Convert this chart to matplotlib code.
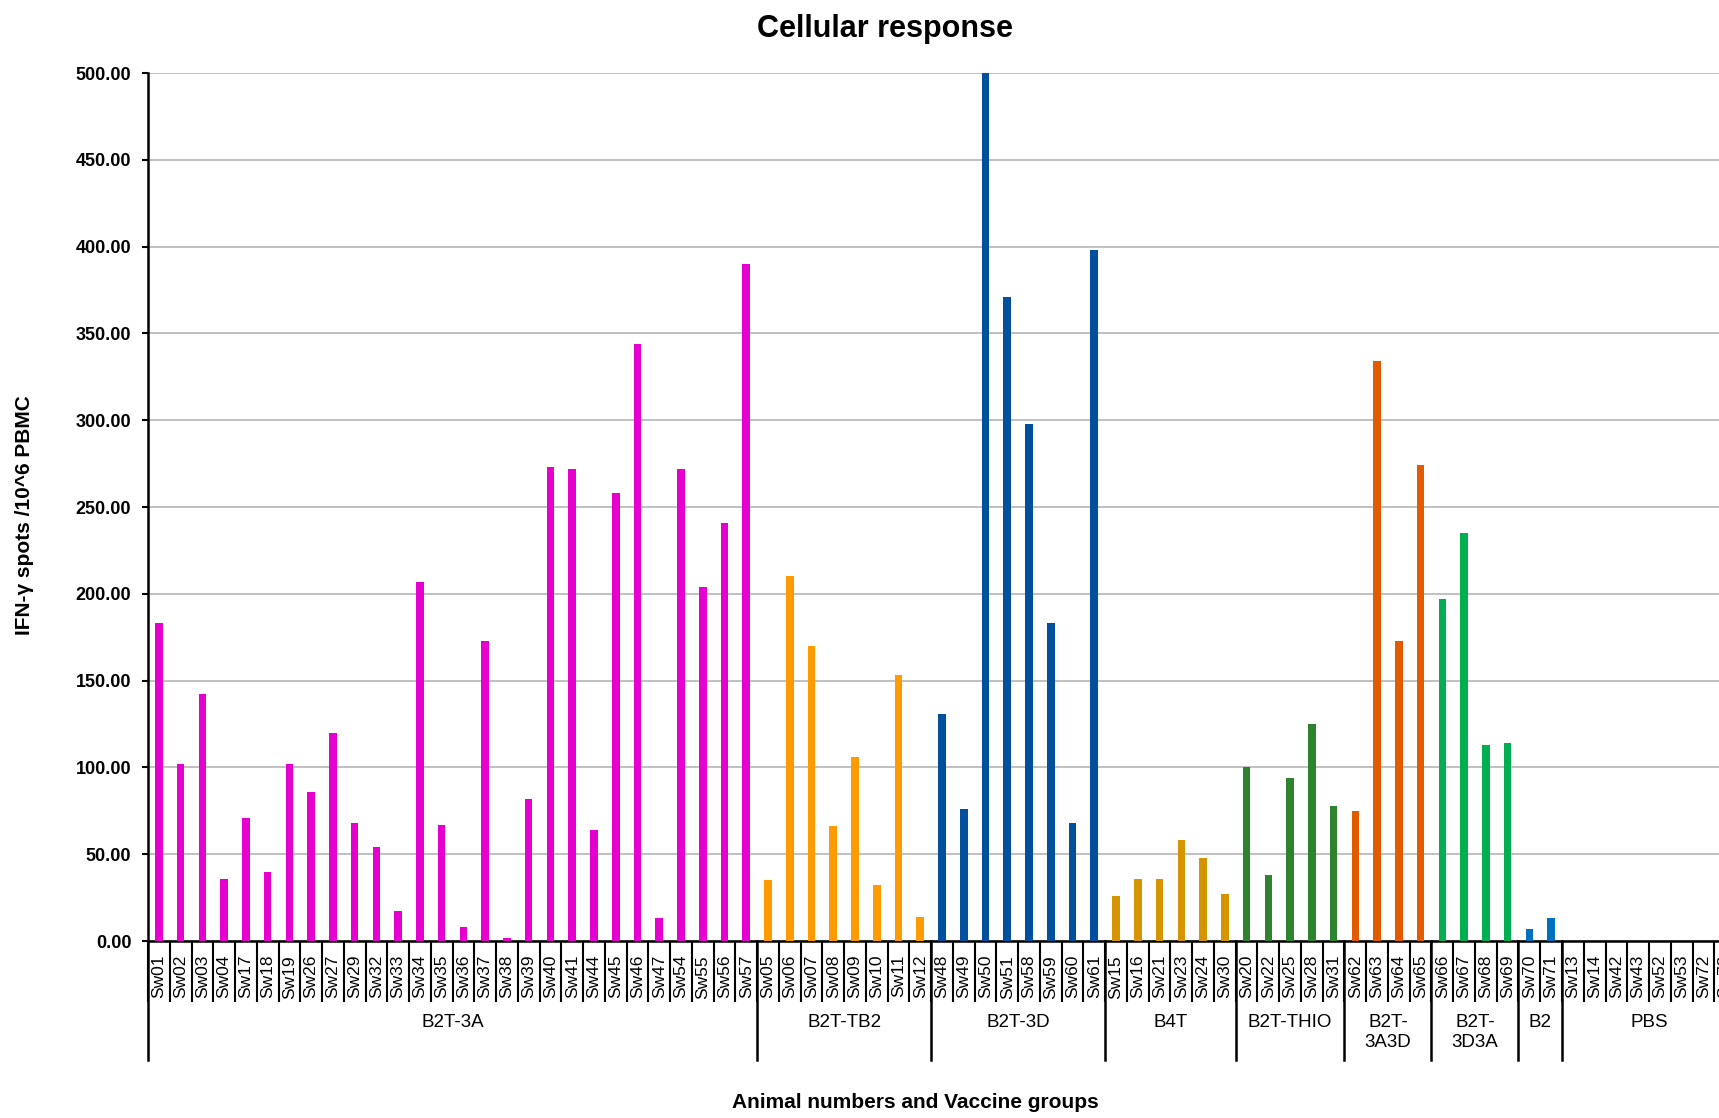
import numpy as np
import matplotlib.pyplot as plt
from matplotlib.transforms import blended_transform_factory

plt.rcParams['font.family'] = ['Liberation Sans', 'DejaVu Sans']

# animals per vaccine group, with IFN-gamma spots per 10^6 PBMC
groups = ["B2T-3A", "B2T-TB2", "B2T-3D", "B4T", "B2T-THIO",
          "B2T-\n3A3D", "B2T-\n3D3A", "B2", "PBS"]
animals = [
    ["Sw01", "Sw02", "Sw03", "Sw04", "Sw17", "Sw18", "Sw19", "Sw26", "Sw27", "Sw29",
     "Sw32", "Sw33", "Sw34", "Sw35", "Sw36", "Sw37", "Sw38", "Sw39", "Sw40", "Sw41",
     "Sw44", "Sw45", "Sw46", "Sw47", "Sw54", "Sw55", "Sw56", "Sw57"],
    ["Sw05", "Sw06", "Sw07", "Sw08", "Sw09", "Sw10", "Sw11", "Sw12"],
    ["Sw48", "Sw49", "Sw50", "Sw51", "Sw58", "Sw59", "Sw60", "Sw61"],
    ["Sw15", "Sw16", "Sw21", "Sw23", "Sw24", "Sw30"],
    ["Sw20", "Sw22", "Sw25", "Sw28", "Sw31"],
    ["Sw62", "Sw63", "Sw64", "Sw65"],
    ["Sw66", "Sw67", "Sw68", "Sw69"],
    ["Sw70", "Sw71"],
    ["Sw13", "Sw14", "Sw42", "Sw43", "Sw52", "Sw53", "Sw72", "Sw73"],
]
spots = [
    [183, 102, 142, 36, 71, 40, 102, 86, 120, 68,
     54, 17, 207, 67, 8, 173, 2, 82, 273, 272,
     64, 258, 344, 13, 272, 204, 241, 390],
    [35, 210, 170, 66, 106, 32, 153, 14],
    [131, 76, 500, 371, 298, 183, 68, 398],
    [26, 36, 36, 58, 48, 27],
    [100, 38, 94, 125, 78],
    [75, 334, 173, 274],
    [197, 235, 113, 114],
    [7, 13],
    [0, 0, 0, 0, 0, 0, 0, 0],
]
group_colors = ["#E600D0", "#FF9A00", "#00509E", "#D49500", "#2E842E",
                "#E35B00", "#00B050", "#0070C0", "#808080"]

labels = [a for g in animals for a in g]
values = [v for g in spots for v in g]
colors = [c for g, c in zip(animals, group_colors) for _ in g]
n = len(labels)
x = np.arange(n) + 0.5

W, H = 1719, 1118
fig = plt.figure(figsize=(W / 100, H / 100), dpi=100)
# axes runs past the right edge, like the cropped original
ax_left, ax_top, ax_bottom = 148, 73, 941
cat_w = (1562 - 148) / 65
ax = fig.add_axes([ax_left / W, 1 - ax_bottom / H,
                   n * cat_w / W, (ax_bottom - ax_top) / H])

ax.bar(x, values, width=0.35, color=colors, zorder=3)

ax.set_xlim(0, n)
ax.set_ylim(0, 500)
ax.set_yticks(np.arange(0, 501, 50))
ax.set_yticklabels([f"{v:.2f}" for v in np.arange(0, 501, 50)],
                   fontsize=13, fontweight='bold')
ax.yaxis.grid(True, color="#BBBBBB", linewidth=1.3, zorder=0)
ax.tick_params(axis='y', length=4, width=1.5, pad=8)

# boundaries between animals as ticks, names as minor tick labels
ax.set_xticks(np.arange(n + 1))
ax.set_xticklabels([])
ax.tick_params(axis='x', which='major', length=44, width=1.5)
ax.set_xticks(x, minor=True)
ax.set_xticklabels(labels, minor=True, rotation=90, fontsize=12.5)
ax.tick_params(axis='x', which='minor', length=0, pad=10)

for s in ['top', 'right']:
    ax.spines[s].set_visible(False)
ax.spines['left'].set_linewidth(1.8)
ax.spines['bottom'].set_linewidth(1.8)

# group separators and group names below the axis
trans = blended_transform_factory(ax.transData, ax.transAxes)
axh = ax_bottom - ax_top
start = 0
for g, names in zip(groups, animals):
    ax.plot([start, start], [0, -119 / axh], color='black', lw=1.8,
            transform=trans, clip_on=False)
    mid = start + len(names) / 2
    ax.text(mid, -73 / axh, g, transform=trans, ha='center', va='top',
            fontsize=13.5, linespacing=1.2)
    start += len(names)

fig.text(885 / W, 1 - 29 / H, "Cellular response", ha='center', va='center',
         fontsize=22, fontweight='bold')
fig.text(24 / W, 1 - 515 / H, "IFN-γ spots /10^6 PBMC", ha='center', va='center',
         rotation=90, fontsize=15, fontweight='bold')
fig.text(915 / W, 1 - 1103 / H, "Animal numbers and Vaccine groups", ha='center',
         va='center', fontsize=15, fontweight='bold')

fig.savefig("out.png", dpi=100)
